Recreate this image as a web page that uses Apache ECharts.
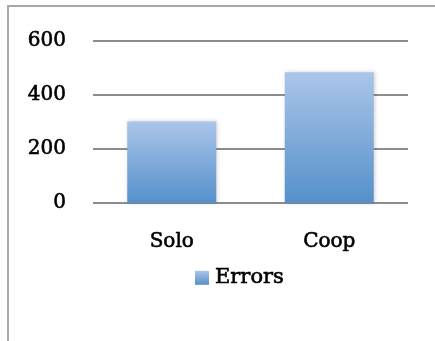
<!DOCTYPE html>
<html>
<head>
<meta charset="utf-8">
<script src="https://cdn.jsdelivr.net/npm/echarts@6/dist/echarts.min.js"></script>
<style>
  html, body { margin: 0; padding: 0; background: #fff; }
  #chart { width: 435px; height: 341px; }
</style>
</head>
<body>
<div id="chart"></div>
<script>
// Error counts per play mode
const categories = ['Solo', 'Coop'];
const errors = [302, 484];
const seriesName = 'Errors';
const yTicks = { min: 0, max: 600, interval: 200 };

const FONT = '"DejaVu Serif", serif';
// slightly heavier serif text
const textWeight = { textBorderColor: '#000', textBorderWidth: 0.6 };

const barFill = new echarts.graphic.LinearGradient(0, 0, 0, 1, [
  { offset: 0, color: '#abc5e9' },
  { offset: 1, color: '#5590cb' }
]);

const chart = echarts.init(document.getElementById('chart'), null, { renderer: 'canvas' });
chart.setOption({
  animation: false,
  backgroundColor: '#fff',
  graphic: [
    { type: 'line', shape: { x1: 7, y1: 6, x2: 435, y2: 6 }, style: { stroke: '#a8a8a8', lineWidth: 2 } },
    { type: 'line', shape: { x1: 8, y1: 5, x2: 8, y2: 341 }, style: { stroke: '#a8a8a8', lineWidth: 2 } }
  ],
  grid: { left: 93, right: 27, top: 41, bottom: 138, containLabel: false },
  legend: {
    data: [seriesName],
    left: 195,
    top: 267,
    padding: 0,
    itemWidth: 14,
    itemHeight: 14,
    itemGap: 6,
    icon: 'rect',
    textStyle: Object.assign({ fontFamily: FONT, fontSize: 21, color: '#000', padding: [0, 0, 0, 1] }, textWeight)
  },
  xAxis: {
    type: 'category',
    data: categories,
    axisLine: { show: false },
    axisTick: { show: false },
    axisLabel: Object.assign({ margin: 29, fontFamily: FONT, fontSize: 20, color: '#000' }, textWeight)
  },
  yAxis: {
    type: 'value',
    min: yTicks.min,
    max: yTicks.max,
    interval: yTicks.interval,
    axisLine: { show: false },
    axisTick: { show: false },
    splitLine: { lineStyle: { color: '#8c8c8c', width: 2 } },
    axisLabel: Object.assign({ margin: 27, fontFamily: FONT, fontSize: 20, color: '#000' }, textWeight)
  },
  series: [{
    name: seriesName,
    type: 'bar',
    data: errors,
    barWidth: 89,
    itemStyle: {
      color: barFill,
      shadowColor: 'rgba(0,0,0,0.18)',
      shadowBlur: 4,
      shadowOffsetX: 1,
      shadowOffsetY: 0
    }
  }]
});
</script>
</body>
</html>
